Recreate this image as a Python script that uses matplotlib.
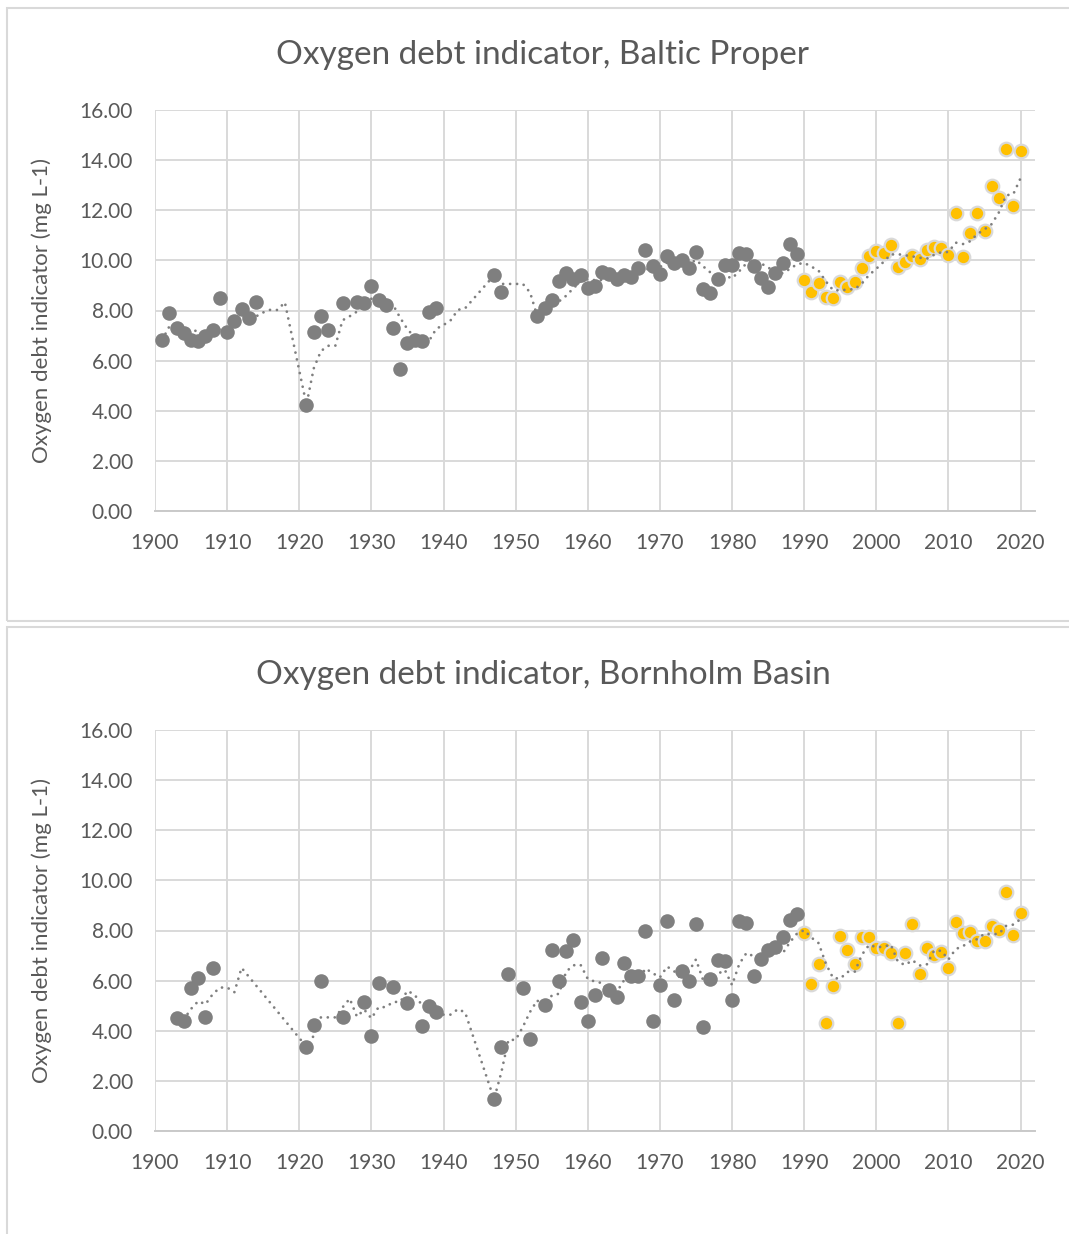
import numpy as np
import pandas as pd
import matplotlib
matplotlib.use('Agg')
import matplotlib.pyplot as plt
from matplotlib.patches import Rectangle
from matplotlib.ticker import FormatStrFormatter

plt.rcParams['font.family'] = ['Lato', 'DejaVu Sans']

# Baltic Proper, up to 1989 (grey) and 1990-2020 (yellow)
bp_years_old = [1901, 1902, 1903, 1904, 1905, 1906, 1907, 1908, 1909, 1910, 1911, 1912, 1913, 1914,
                1921, 1922, 1923, 1924, 1926, 1928, 1929, 1930, 1931, 1932, 1933, 1934, 1935, 1936,
                1937, 1938, 1939, 1947, 1948, 1953, 1954, 1955, 1956, 1957, 1958, 1959, 1960, 1961,
                1962, 1963, 1964, 1965, 1966, 1967, 1968, 1969, 1970, 1971, 1972, 1973, 1974, 1975,
                1976, 1977, 1978, 1979, 1980, 1981, 1982, 1983, 1984, 1985, 1986, 1987, 1988, 1989]
bp_vals_old = [6.83, 7.91, 7.29, 7.11, 6.83, 6.80, 6.99, 7.23, 8.51, 7.13, 7.60, 8.05, 7.71, 8.33,
               4.24, 7.13, 7.77, 7.23, 8.31, 8.33, 8.28, 8.96, 8.40, 8.20, 7.29, 5.67, 6.69, 6.83,
               6.80, 7.96, 8.09, 9.40, 8.72, 7.77, 8.08, 8.41, 9.18, 9.50, 9.27, 9.40, 8.91, 8.97,
               9.54, 9.47, 9.27, 9.40, 9.34, 9.71, 10.40, 9.76, 9.47, 10.16, 9.89, 10.00, 9.71, 10.33,
               8.87, 8.68, 9.27, 9.80, 9.80, 10.29, 10.26, 9.78, 9.29, 8.95, 9.49, 9.91, 10.64, 10.24]
bp_years_new = list(range(1990, 2021))
bp_vals_new = [9.22, 8.75, 9.08, 8.53, 8.49, 9.15, 8.95, 9.13, 9.68, 10.18, 10.39, 10.31, 10.61,
               9.75, 9.95, 10.18, 10.04, 10.41, 10.52, 10.48, 10.22, 11.91, 10.12, 11.08, 11.91,
               11.17, 12.96, 12.47, 14.46, 12.17, 14.36]

# Bornholm Basin
bb_years_old = [1903, 1904, 1905, 1906, 1907, 1908, 1921, 1922, 1923, 1926, 1929, 1930, 1931, 1933,
                1935, 1937, 1938, 1939, 1947, 1948, 1949, 1951, 1952, 1954, 1955, 1956, 1957, 1958,
                1959, 1960, 1961, 1962, 1963, 1964, 1965, 1966, 1967, 1968, 1969, 1970, 1971, 1972,
                1973, 1974, 1975, 1976, 1977, 1978, 1979, 1980, 1981, 1982, 1983, 1984, 1985, 1986,
                1987, 1988, 1989]
bb_vals_old = [4.51, 4.40, 5.71, 6.11, 4.56, 6.51, 3.36, 4.24, 6.00, 4.56, 5.13, 3.79, 5.91, 5.76,
               5.11, 4.20, 5.00, 4.73, 1.27, 3.37, 6.27, 5.71, 3.67, 5.03, 7.23, 5.97, 7.20, 7.63,
               5.13, 4.40, 5.44, 6.91, 5.63, 5.33, 6.69, 6.20, 6.20, 8.00, 4.40, 5.84, 8.36, 5.24,
               6.40, 5.97, 8.27, 4.16, 6.07, 6.84, 6.80, 5.24, 8.36, 8.29, 6.17, 6.87, 7.23, 7.36,
               7.76, 8.40, 8.64]
bb_years_new = list(range(1990, 2021))
bb_vals_new = [7.91, 5.88, 6.65, 4.32, 5.77, 7.77, 7.23, 6.65, 7.74, 7.74, 7.31, 7.31, 7.10,
               4.29, 7.11, 8.26, 6.25, 7.31, 7.01, 7.14, 6.50, 8.33, 7.89, 7.96, 7.60, 7.60,
               8.16, 8.03, 9.55, 7.84, 8.69]

GRAY = '#7f7f7f'
YELLOW = '#ffc000'
GRID = '#d9d9d9'
TEXT = '#595959'

fig = plt.figure(figsize=(10.69, 12.34), dpi=100)
W, H = 1069, 1234

# chart boxes
for top, bottom in [(8, 621), (627, 1240)]:
    fig.add_artist(Rectangle((7 / W, 1 - bottom / H), 1.2, (bottom - top) / H,
                             transform=fig.transFigure, fill=False, edgecolor=GRID, lw=1.5))


def panel(y_top, title, yo, vo, yn, vn):
    ax = fig.add_axes([155 / W, 1 - (y_top + 401) / H, 880 / W, 401 / H])
    # 5-year trailing moving average (trend line)
    s = pd.Series(vo + vn, index=yo + yn).reindex(range(min(yo), 2021))
    trend = s.rolling(5, min_periods=1).mean().dropna()
    ax.scatter(yo, vo, s=110, color=GRAY, linewidths=0, zorder=3)
    ax.scatter(yn, vn, s=95, color=YELLOW, edgecolors=GRID, linewidths=1.6, zorder=3)
    ax.plot(trend.index, trend.values, color=GRAY, lw=2.0, ls=(0, (0.01, 2.5)),
            dash_capstyle='round', zorder=4)
    ax.set_xlim(1900, 2022)
    ax.set_ylim(0, 16)
    ax.set_xticks(range(1900, 2021, 10))
    ax.set_yticks(np.arange(0, 17, 2))
    ax.yaxis.set_major_formatter(FormatStrFormatter('%.2f'))
    ax.grid(color=GRID, lw=1.4)
    ax.set_axisbelow(True)
    for sp in ax.spines.values():
        sp.set_visible(False)
    ax.spines['bottom'].set_visible(True)
    ax.spines['bottom'].set_color('#c9c9c9')
    ax.spines['bottom'].set_linewidth(1.4)
    ax.tick_params(length=0, labelsize=15, colors=TEXT)
    ax.tick_params(axis='x', pad=16)
    ax.tick_params(axis='y', pad=16)
    ax.set_ylabel('Oxygen debt indicator (mg L-1)', fontsize=16, color=TEXT)
    ax.yaxis.set_label_coords(-103 / 880, 0.5)
    fig.text(543 / W, 1 - (y_top - 55) / H, title, ha='center', va='center',
             fontsize=24, color=TEXT)
    return ax


panel(110, 'Oxygen debt indicator, Baltic Proper', bp_years_old, bp_vals_old, bp_years_new, bp_vals_new)
panel(730, 'Oxygen debt indicator, Bornholm Basin', bb_years_old, bb_vals_old, bb_years_new, bb_vals_new)

fig.savefig('out.png', dpi=100, facecolor='white')
